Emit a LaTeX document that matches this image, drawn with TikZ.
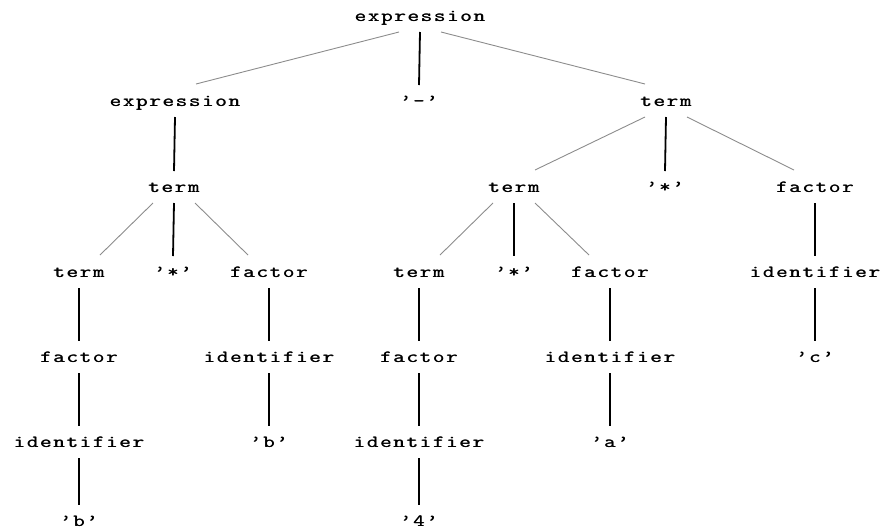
\documentclass[tikz,border=0pt]{standalone}
\usepackage{fontspec}
\makeatletter
% set a word in a heavier typewriter face with wider letter spacing
\newlength\treespc
\setlength\treespc{0.95pt}
\newlength\treebold
\setlength\treebold{0.45pt}
\newcommand\spread[1]{%
  \@tfor\ch:=#1\do{\rlap{\ch}\kern\treebold\ch\kern\treespc}\kern-\treespc}
\makeatother
\begin{document}
\begin{tikzpicture}[x=1pt,y=-1pt,
  sym/.style={anchor=base,inner sep=0pt,xscale=1.3,
    font=\fontsize{17}{17}\ttfamily},
  unit/.style={line width=1.8pt,black},
  branch/.style={line width=0.9pt,black!45}]
\useasboundingbox (0,0) rectangle (888,531);

% level 0
\node[sym] (e0) at (420,21) {\spread{expression}};
% level 1
\node[sym] (e1) at (175,106) {\spread{expression}};
\node[sym] (minus) at (419,106) {\spread{’-’}};
\node[sym] (t1) at (666,106) {\spread{term}};
% level 2
\node[sym] (t2a) at (174,192) {\spread{term}};
\node[sym] (t2b) at (514,192) {\spread{term}};
\node[sym] (star2) at (665,192) {\spread{’*’}};
\node[sym] (f2) at (815,192) {\spread{factor}};
% level 3
\node[sym] (t3a) at (79,277) {\spread{term}};
\node[sym] (star3a) at (173,277) {\spread{’*’}};
\node[sym] (f3a) at (269,277) {\spread{factor}};
\node[sym] (t3b) at (419,277) {\spread{term}};
\node[sym] (star3b) at (514,277) {\spread{’*’}};
\node[sym] (f3b) at (610,277) {\spread{factor}};
\node[sym] (id3) at (815,277) {\spread{identifier}};
% level 4
\node[sym] (f4a) at (79,362) {\spread{factor}};
\node[sym] (id4a) at (269,362) {\spread{identifier}};
\node[sym] (f4b) at (419,362) {\spread{factor}};
\node[sym] (id4b) at (610,362) {\spread{identifier}};
\node[sym] (c) at (815,362) {\spread{’c’}};
% level 5
\node[sym] (id5a) at (79,447) {\spread{identifier}};
\node[sym] (b5) at (269,447) {\spread{’b’}};
\node[sym] (id5b) at (419,447) {\spread{identifier}};
\node[sym] (a5) at (610,447) {\spread{’a’}};
% level 6
\node[sym] (b6) at (79,526) {\spread{’b’}};
\node[sym] (four) at (419,526) {\spread{’4’}};

% single-child links: straight down
\foreach \p/\c in {e0/minus,e1/t2a,t1/star2,t2a/star3a,t2b/star3b,f2/id3,
                   t3a/f4a,f3a/id4a,t3b/f4b,f3b/id4b,id3/c,
                   f4a/id5a,id4a/b5,f4b/id5b,id4b/a5,id5a/b6,id5b/four}
  \draw[unit] ([shift={(0,11)}]\p.base) -- ([shift={(0,-21)}]\c.base);

% left branches
\foreach \p/\c in {e0/e1,t1/t2b,t2a/t3a,t2b/t3b}
  \draw[branch] ([shift={(-21,11)}]\p.base) -- ([shift={(21,-22)}]\c.base);
% right branches
\foreach \p/\c in {e0/t1,t1/f2,t2a/f3a,t2b/f3b}
  \draw[branch] ([shift={(21,11)}]\p.base) -- ([shift={(-21,-22)}]\c.base);
\end{tikzpicture}
\end{document}
